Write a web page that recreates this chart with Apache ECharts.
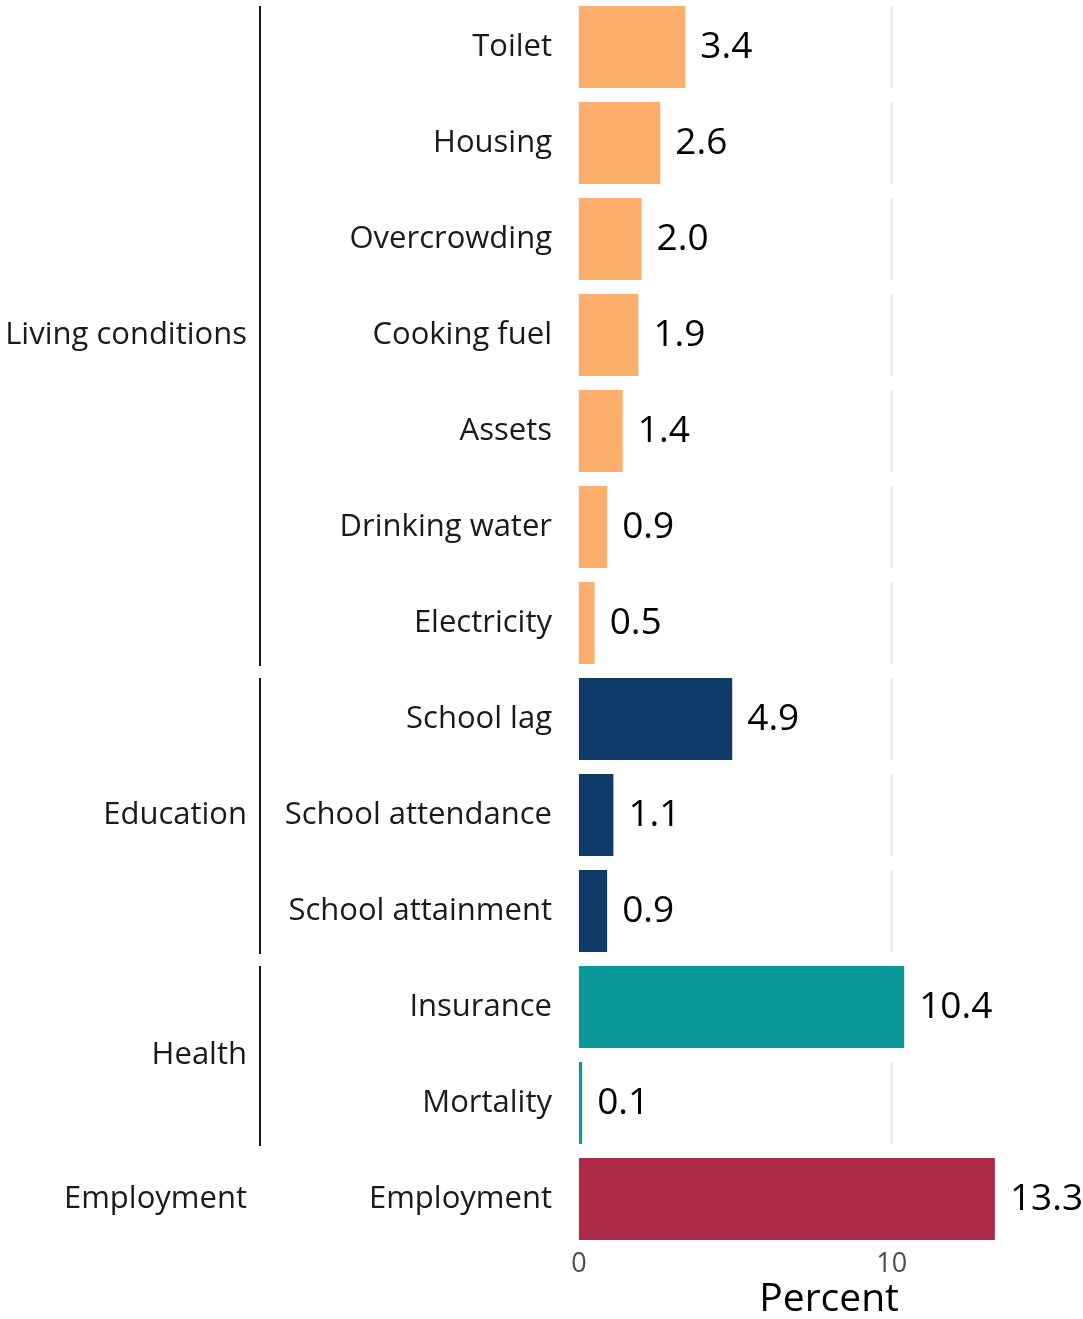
<!DOCTYPE html>
<html>
<head>
<meta charset="utf-8">
<script src="https://cdn.jsdelivr.net/npm/echarts@6/dist/echarts.min.js"></script>
<style>
html,body{margin:0;padding:0;background:#fff;}
#chart{width:1083px;height:1319px;}
</style>
</head>
<body>
<div id="chart"></div>
<script>
var categories = ['Toilet','Housing','Overcrowding','Cooking fuel','Assets','Drinking water','Electricity','School lag','School attendance','School attainment','Insurance','Mortality','Employment'];
var values = [3.4, 2.6, 2.0, 1.9, 1.4, 0.9, 0.5, 4.9, 1.1, 0.9, 10.4, 0.1, 13.3];
var rowGroups = ['Living conditions','Living conditions','Living conditions','Living conditions','Living conditions','Living conditions','Living conditions','Education','Education','Education','Health','Health','Employment'];
var groupNames = ['Living conditions','Education','Health','Employment'];
var groupColors = ['#fdae6b','#103a6a','#0b9899','#ad2b47'];
var xTicks = [0, 10];

var FONT = '"Open Sans", Lato, sans-serif';
var TOP0 = 6, STEP = 96, ROWH = 82, LEFT = 579, XMAX = 16, UNIT = 31.27;
var WIDTH = XMAX * UNIT;

var chart = echarts.init(document.getElementById('chart'), null, {renderer:'canvas'});
var grids = [], xAxes = [], yAxes = [], series = [], graphics = [];
var n = categories.length;
for (var i = 0; i < n; i++) {
  var last = (i === n - 1);
  grids.push({left: LEFT, top: TOP0 + STEP * i, width: WIDTH, height: ROWH, containLabel: false, outerBoundsMode: 'none'});
  xAxes.push({
    type: 'value', gridIndex: i, min: 0, max: XMAX, interval: xTicks[1] - xTicks[0],
    axisLine: {show: false}, axisTick: {show: false},
    splitLine: {show: true, showMaxLine: false, lineStyle: {color: '#ebebeb', width: 2.5}},
    axisLabel: {show: last, fontFamily: FONT, fontSize: 27, color: '#4d4d4d', margin: 11,
      showMaxLabel: false,
      formatter: function (v) { return xTicks.indexOf(v) >= 0 ? String(v) : ''; }},
    name: last ? 'Percent' : '', nameLocation: 'middle', nameGap: 40,
    nameTextStyle: {fontFamily: FONT, fontSize: 39, color: '#000', verticalAlign: 'top'}
  });
  yAxes.push({
    type: 'category', gridIndex: i, data: [categories[i]],
    axisLine: {show: false}, axisTick: {show: false}, splitLine: {show: false},
    axisLabel: {fontFamily: FONT, fontSize: 31, color: '#1a1a1a', margin: 27}
  });
  var gi = groupNames.indexOf(rowGroups[i]);
  series.push({
    type: 'bar', xAxisIndex: i, yAxisIndex: i, data: [values[i]],
    barWidth: '100%', itemStyle: {color: groupColors[gi]},
    label: {show: true, position: 'right', distance: 15, fontFamily: FONT, fontSize: 37, color: '#000',
      formatter: function (p) { return p.value.toFixed(1); }},
    silent: true
  });
}
// group labels and brackets
groupNames.forEach(function (g) {
  var first = rowGroups.indexOf(g), lastIdx = rowGroups.lastIndexOf(g);
  var y0 = TOP0 + STEP * first, y1 = TOP0 + STEP * lastIdx + ROWH;
  graphics.push({type: 'text', x: 247, y: (y0 + y1) / 2,
    style: {text: g, font: '31px ' + FONT, fill: '#1a1a1a', textAlign: 'right', textVerticalAlign: 'middle'}});
  if (lastIdx > first) {
    graphics.push({type: 'line', shape: {x1: 260, y1: y0, x2: 260, y2: y1 + 2},
      style: {stroke: '#1a1a1a', lineWidth: 2}});
  }
});

chart.setOption({
  animation: false,
  backgroundColor: '#fff',
  grid: grids, xAxis: xAxes, yAxis: yAxes, series: series, graphic: graphics
});
</script>
</body>
</html>
